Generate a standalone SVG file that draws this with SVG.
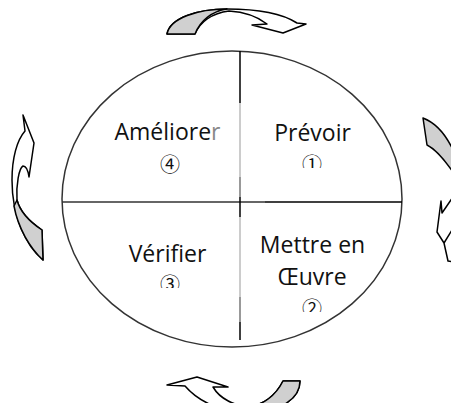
<svg xmlns="http://www.w3.org/2000/svg" width="451" height="403" viewBox="0 0 451 403">
<style>
.lbl{font-family:"Open Sans","Liberation Sans",sans-serif;font-size:23px;fill:#111;text-anchor:middle}
.num{font-family:"Noto Sans CJK JP","DejaVu Sans",sans-serif;font-size:20px;fill:#111;text-anchor:middle}
.arr{fill:#fff;stroke:#000;stroke-width:1.5;stroke-linejoin:round}
.shade{fill:#d0d0d0;stroke:#000;stroke-width:1.5;stroke-linejoin:round}
.ln{fill:none;stroke:#000;stroke-width:1.5;stroke-linejoin:round}
</style>
<defs>
<clipPath id="c1"><rect x="290" y="150" width="50" height="18"/></clipPath>
<clipPath id="c3"><rect x="150" y="270" width="50" height="18"/></clipPath>
<clipPath id="c2"><rect x="290" y="294" width="50" height="18"/></clipPath>
</defs>
<rect width="451" height="403" fill="#fff"/>
<g id="cycle">
<ellipse cx="232" cy="199" rx="170" ry="148" fill="#fff" stroke="#333" stroke-width="1.5"/>
</g>
<g id="connectors">
<line x1="62" y1="202" x2="265" y2="202" stroke="#333" stroke-width="1.5"/>
<line x1="265" y1="202" x2="402" y2="202" stroke="#000" stroke-width="1.5"/>
<line x1="240" y1="51" x2="240" y2="103" stroke="#000" stroke-width="1.5"/>
<line x1="240" y1="103" x2="240" y2="177" stroke="#bbb" stroke-width="1.5"/>
<line x1="240" y1="177" x2="240" y2="197" stroke="#777" stroke-width="1.5"/>
<line x1="240" y1="197" x2="240" y2="217" stroke="#000" stroke-width="1.5"/>
<line x1="240" y1="217" x2="240" y2="297" stroke="#bbb" stroke-width="1.5"/>
<line x1="240" y1="297" x2="240" y2="322" stroke="#777" stroke-width="1.5"/>
<line x1="240" y1="322" x2="240" y2="340" stroke="#000" stroke-width="1.5"/>
</g>
<g id="arrow-top">
<path class="arr" d="M167,34 C170,18 198,9 227,9 C258,9 283,14 297,23 L306,24 L283,33 L252,25 L267,24 C258,17 246,12 229,11 C212,13 200,22 195,34 Z"/>
<path class="shade" d="M167,34 C170,18 198,9 227,9 C212,11 200,21 195,34 Z"/>
</g>
<g id="arrow-left">
<path class="arr" d="M23,115 L25,131 C17,140 12,158 12,180 C12,215 25,245 43,260 L42,230 C30,222 20,212 17,200 C16,185 19,168 23,166 C26,166 28,170 29,177 L34,143 Z"/>
<path class="shade" d="M14,206 C18,228 30,248 43,260 L42,230 C30,222 20,212 17,200 Z"/>
</g>
<g id="arrow-right">
<path class="shade" d="M423,118 C436,123 446,135 453,150 L453,172 C446,162 437,150 427,145 Z"/>
<path class="arr" d="M453,197 L442,213 L441,201 L437,232 L444,243 L448,261 L454,262 L454,197 Z"/>
<path class="ln" d="M444,243 L452,230"/>
</g>
<g id="arrow-bottom">
<path class="arr" d="M167,385 L197,377 L228,387 L213,387 C220,399 235,406 248,406 C263,406 276,395 283,381 L300,381 C300,398 282,412 246,412 C220,412 198,401 185,386 Z"/>
<path class="shade" d="M283,381 L300,381 C300,398 282,412 248,412 L248,406 C263,406 276,395 283,381 Z"/>
</g>
<g id="ameliorer">
<text class="lbl" x="167.5" y="140">Améliore<tspan fill="#888">r</tspan></text>
<text class="num" x="170" y="172">④</text>
</g>
<g id="prevoir">
<text class="lbl" x="312.5" y="141">Prévoir</text>
<text class="num" x="312" y="172" clip-path="url(#c1)">①</text>
</g>
<g id="verifier">
<text class="lbl" x="167.5" y="262">Vérifier</text>
<text class="num" x="170" y="292" clip-path="url(#c3)">③</text>
</g>
<g id="mettre">
<text class="lbl" x="312.5" y="253">Mettre en</text>
<text class="lbl" x="312" y="285">Œuvre</text>
<text class="num" x="312" y="316" clip-path="url(#c2)">②</text>
</g>
</svg>
